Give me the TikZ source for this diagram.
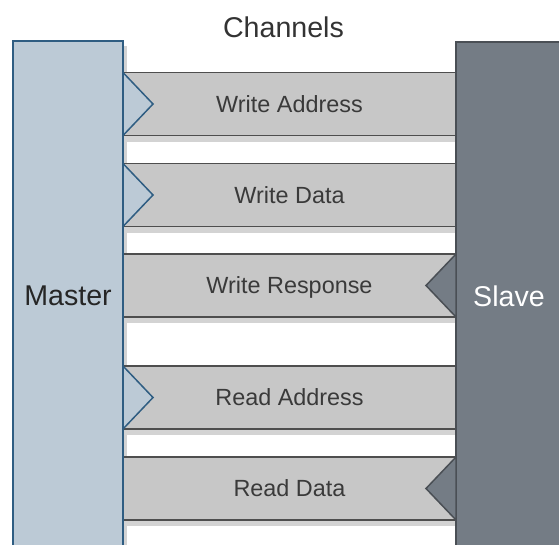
\documentclass[tikz,border=0pt]{standalone}
\usepackage{fontspec}
\setmainfont{Liberation Sans}
\definecolor{masterfill}{HTML}{BCCAD6}
\definecolor{masterline}{HTML}{2F5D82}
\definecolor{slavefill}{HTML}{747C85}
\definecolor{slaveline}{HTML}{4A4F55}
\definecolor{busfill}{HTML}{C7C7C7}
\definecolor{busline}{HTML}{4E4E4E}
\definecolor{shade}{HTML}{D3D3D3}
\definecolor{labeltext}{HTML}{3A3A3A}
\begin{document}
\begin{tikzpicture}[x=1pt,y=-1pt,
  bigfont/.style={font=\fontsize{28.6}{34}\selectfont, text height=20.5pt, text depth=0pt},
  busfont/.style={font=\fontsize{23.4}{28}\selectfont, text height=16.8pt, text depth=0pt},
  unit/.style={rectangle, inner sep=0pt, outer sep=0pt, bigfont},
  masterbox/.style={unit, fill=masterfill, draw=masterline, line width=1.5pt,
    minimum width=110pt, minimum height=509pt, text=black!85},
  slavebox/.style={unit, fill=slavefill, draw=slaveline, line width=1.5pt,
    minimum width=106pt, minimum height=508pt, text=white},
  bus/.style={rectangle, inner sep=0pt, outer sep=0pt, busfont,
    fill=busfill, draw=busline, line width=1.5pt,
    minimum width=333pt, minimum height=63pt, text=labeltext},
  drop/.style={fill=shade, draw=none},
  tomaster/.style={fill=slavefill, draw=slaveline, line width=1.5pt, line join=miter},
  toslave/.style={fill=masterfill, draw=masterline, line width=1.5pt, line join=miter}
]
\useasboundingbox (0,0) rectangle (559,544);

% drop shadows behind the channel bars and the master block
\foreach \y in {104, 195, 285.5, 397.5, 488.5}
  \fill[drop] (126,\y-26.5) rectangle (456,\y+37.5);
\fill[drop] (123,46) rectangle (127,560);

% channel bars
\node[bus] (wa) at (289.5,104)   {Write Address};
\node[bus] (wd) at (289.5,195)   {Write Data};
\node[bus] (wr) at (289.5,285.5) {Write Response};
\node[bus] (ra) at (289.5,397.5) {Read Address};
\node[bus] (rd) at (289.5,488.5) {Read Data};

% master and slave blocks
\node[masterbox] (master) at (68,295.5)  {Master};
\node[slavebox]  (slave)  at (509,296)   {Slave};

% heading
\node[bigfont, text=black!80, inner sep=0pt] (title) at (283.5,27) {Channels};

% direction markers: master to slave
\foreach \c in {wa, wd, ra}
  \draw[toslave] (\c.north west) -- ([xshift=30pt]\c.west) -- (\c.south west) -- cycle;
% direction markers: slave to master
\foreach \c in {wr, rd}
  \draw[tomaster] (\c.north east) -- ([xshift=-30pt]\c.east) -- (\c.south east) -- cycle;
\end{tikzpicture}
\end{document}
